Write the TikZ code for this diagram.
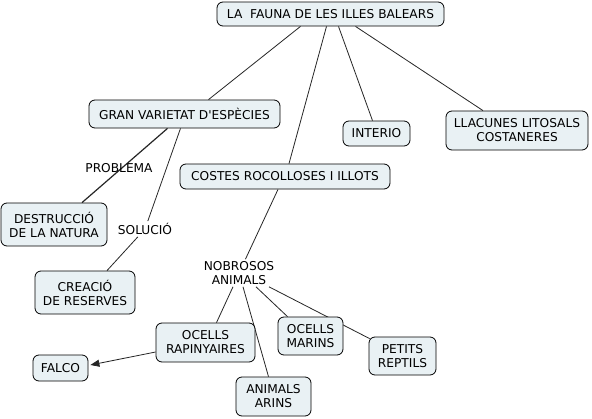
\documentclass[tikz,border=0pt]{standalone}
\usepackage{fontspec}
\setmainfont{DejaVu Sans}[Ligatures=TeXOff]
\usetikzlibrary{arrows.meta,backgrounds}
\definecolor{boxfill}{RGB}{233,241,244}
\begin{document}
\begin{tikzpicture}[x=1pt,y=-1pt,
  box/.style={draw=black,line width=0.8pt,fill=boxfill,rounded corners=6pt,
    inner sep=0pt,align=center,font=\fontsize{12.2}{14}\selectfont},
  lbl/.style={inner sep=2pt,align=center,font=\fontsize{12.2}{14}\selectfont},
  conn/.style={draw=black!85,line width=0.8pt}]
\useasboundingbox (0,0) rectangle (592,418);
\node[box,minimum width=227pt,minimum height=24pt] (fauna) at (330.5,14) {LA\ \ FAUNA DE LES ILLES BALEARS};
\node[box,minimum width=191pt,minimum height=28pt] (gran) at (184.5,114) {GRAN VARIETAT D'ESPÈCIES};
\node[box,minimum width=67pt,minimum height=25pt] (interio) at (376.5,133.5) {INTERIO};
\node[box,minimum width=142pt,minimum height=39pt] (llac) at (517,130.5) {LLACUNES LITOSALS\\COSTANERES};
\node[box,minimum width=210pt,minimum height=25pt] (costes) at (285,176.5) {COSTES ROCOLLOSES I ILLOTS};
\node[box,minimum width=106pt,minimum height=43pt] (destr) at (54,224.5) {DESTRUCCIÓ\\DE LA NATURA};
\node[box,minimum width=100pt,minimum height=43pt] (creacio) at (85,292.5) {CREACIÓ\\DE RESERVES};
\node[box,minimum width=99pt,minimum height=39pt] (rap) at (205.5,342.5) {OCELLS\\RAPINYAIRES};
\node[box,minimum width=55pt,minimum height=26pt] (falco) at (60.5,368) {FALCO};
\node[box,minimum width=75pt,minimum height=39pt] (arins) at (273.5,396.5) {ANIMALS\\ARINS};
\node[box,minimum width=65pt,minimum height=38pt] (marins) at (310.5,336) {OCELLS\\MARINS};
\node[box,minimum width=67pt,minimum height=38pt] (reptils) at (402.5,356) {PETITS\\REPTILS};
\node[lbl] (problema) at (119,168) {PROBLEMA};
\node[lbl] (solucio) at (145,229) {SOLUCIÓ};
\node[lbl] (nobrosos) at (239,273) {NOBROSOS\\ANIMALS};
\begin{pgfonlayer}{background}
\fill[white] (0,0) rectangle (592,418);
\draw[conn] ([xshift=-30pt]fauna.south) -- ([xshift=24pt]gran.north);
\draw[conn] ([xshift=-4pt]fauna.south) -- ([xshift=4pt]costes.north);
\draw[conn] ([xshift=8pt]fauna.south) -- ([xshift=-4pt]interio.north);
\draw[conn] ([xshift=25pt]fauna.south) -- ([xshift=-34pt]llac.north);
\draw[conn,line width=1.2pt] ([xshift=-17pt]gran.south) -- ([xshift=28pt]destr.north);
\draw[conn] ([xshift=-4pt]gran.south) -- (solucio);
\draw[conn] (solucio) -- ([xshift=22pt]creacio.north);
\draw[conn] ([xshift=-7pt]costes.south) -- (nobrosos);
\draw[conn] ([xshift=-6pt]nobrosos.south) -- ([xshift=11pt]rap.north);
\draw[conn] ([xshift=4pt]nobrosos.south) -- ([xshift=-5pt]arins.north);
\draw[conn] ([xshift=17pt]nobrosos.south) -- ([xshift=-23pt]marins.north);
\draw[conn] ([xshift=30pt]nobrosos.south) -- ([xshift=1pt,yshift=-2pt]reptils.north west);
\end{pgfonlayer}
\draw[conn,-{Triangle[length=9pt,width=7pt]}] ([yshift=-9.5pt]rap.west) -- ([yshift=3pt,xshift=2pt]falco.east);
\end{tikzpicture}
\end{document}
